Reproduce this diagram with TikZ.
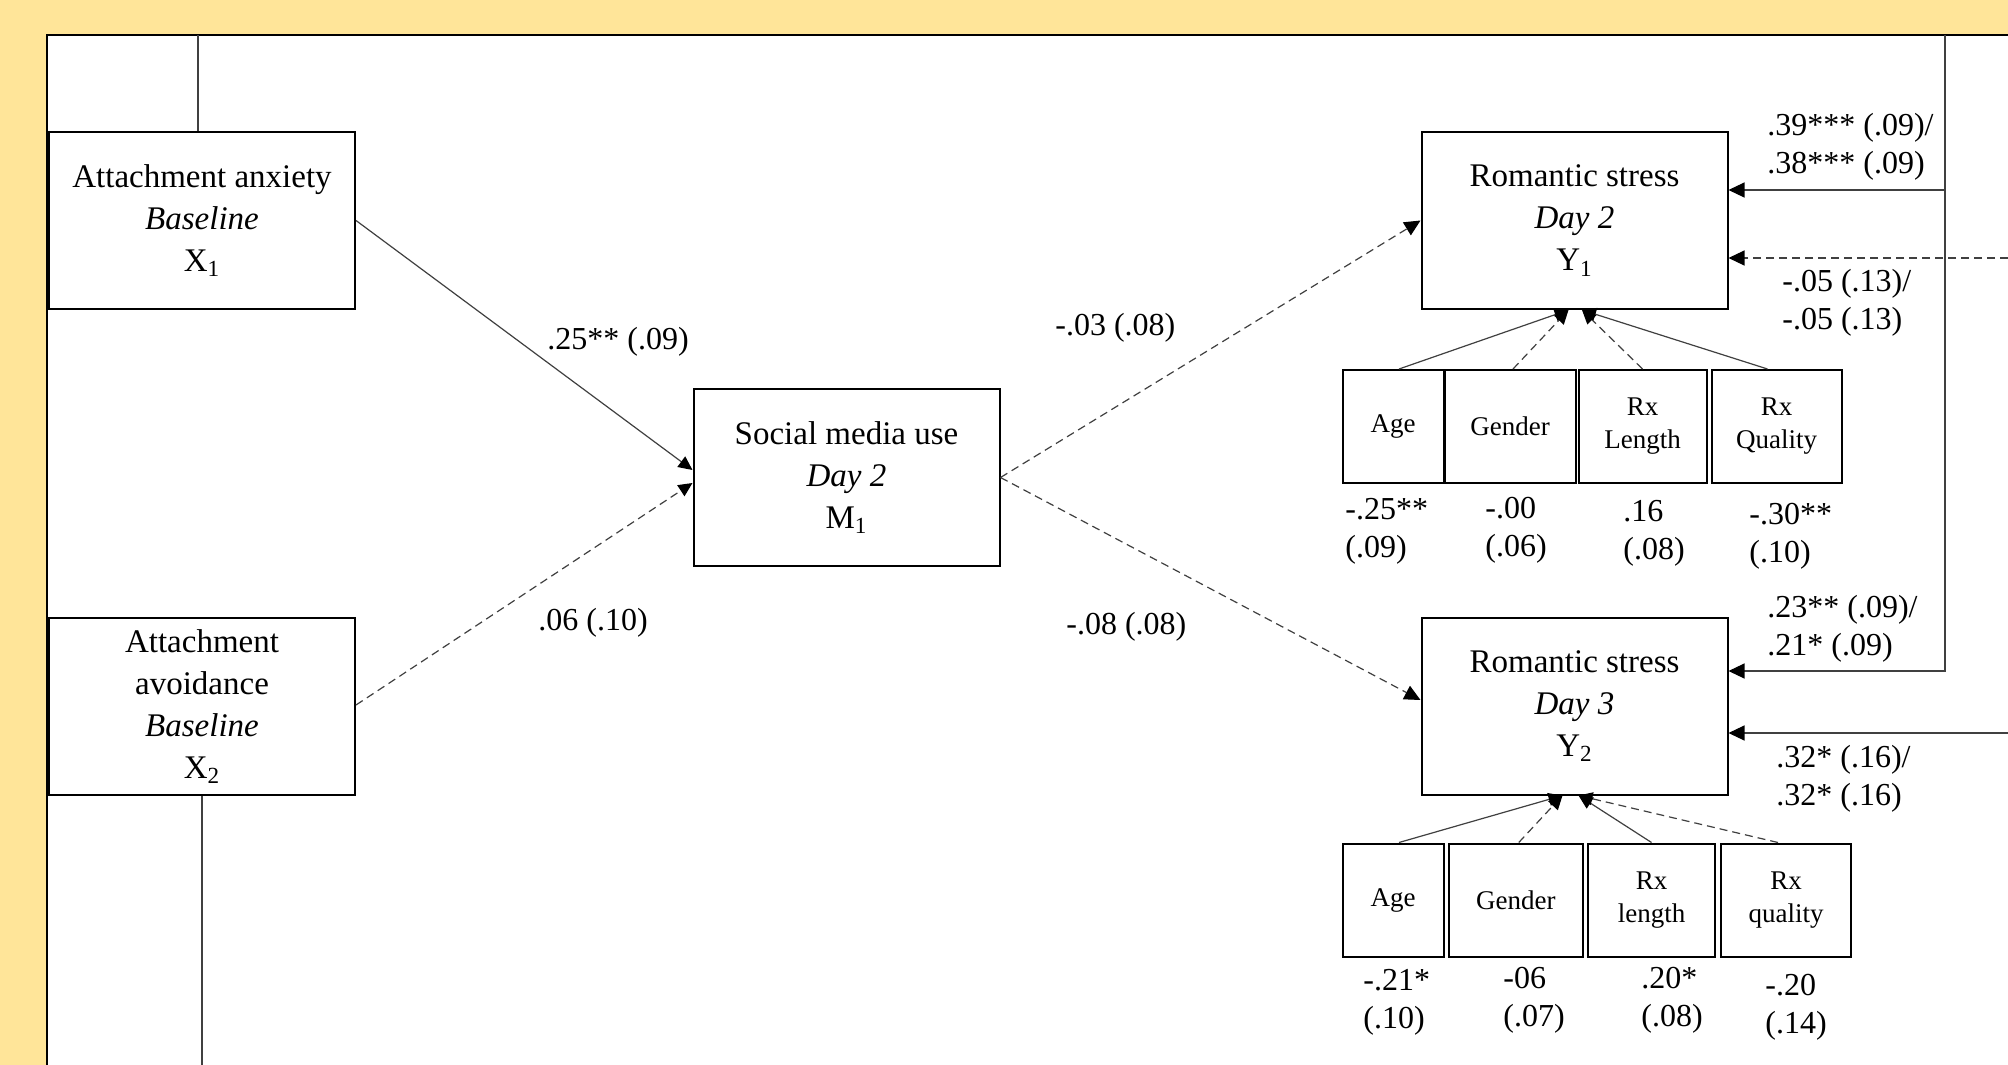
\documentclass[tikz,border=0pt]{standalone}
\usepackage{fontspec}
\setmainfont{Liberation Serif}
\usetikzlibrary{positioning, arrows.meta}
\definecolor{bgyellow}{RGB}{255,229,153}

\begin{document}
\begin{tikzpicture}[
    x=0.5pt, y=-0.5pt,
    var/.style={
      draw=black, line width=1pt, fill=white, align=center, inner sep=0pt,
      minimum width=153pt, minimum height=88.5pt,
      font=\fontsize{16.5}{21}\selectfont
    },
    cov/.style={
      draw=black, line width=1pt, fill=white, align=center, inner sep=0pt,
      minimum height=56.5pt, font=\fontsize{13.5}{16.5}\selectfont
    },
    coef/.style={align=left, inner sep=0pt, anchor=west, font=\fontsize{16}{19}\selectfont},
    link/.style={line width=0.6pt, black!75},
    arr/.style={link, -{Triangle[length=8pt, width=7.5pt, color=black]}},
    sarr/.style={link, -{Triangle[length=7pt, width=6.5pt, color=black]}},
    dsh/.style={dash pattern=on 4pt off 2.5pt},
  ]
    \useasboundingbox (0,0) rectangle (2008,1065);
    \fill[bgyellow] (0,0) rectangle (2008,1065);
    \draw[line width=1pt, fill=white] (47,35) rectangle (2040,1100);

    \node[var] (anx) at (202,220.5) {Attachment anxiety\\\textit{Baseline}\\X\textsubscript{1}};
    \node[var] (avo) at (202,706.5) {Attachment\\avoidance\\\textit{Baseline}\\X\textsubscript{2}};
    \node[var] (med) at (846.5,477.5) {Social media use\\\textit{Day 2}\\M\textsubscript{1}};
    \node[var] (y1) at (1574.5,220.5) {Romantic stress\\\textit{Day 2}\\Y\textsubscript{1}};
    \node[var] (y2) at (1574.5,706) {Romantic stress\\\textit{Day 3}\\Y\textsubscript{2}};

    \node[cov, minimum width=50.5pt] (a1) at (1393,426.5) {Age};
    \node[cov, minimum width=65.5pt, right=-0.5pt of a1] (g1) {Gender};
    \node[cov, minimum width=64pt, right=0.5pt of g1] (l1) {Rx\\Length};
    \node[cov, minimum width=65pt, right=1.5pt of l1] (q1) {Rx\\Quality};

    \node[cov, minimum width=50.5pt] (a2) at (1393,900) {Age};
    \node[cov, minimum width=66.75pt, right=1.75pt of a2] (g2) {Gender};
    \node[cov, minimum width=63.5pt, right=1.75pt of g2] (l2) {Rx\\length};
    \node[cov, minimum width=65pt, right=2pt of l2] (q2) {Rx\\quality};

    \draw[sarr] (anx.east) -- ([yshift=3.75pt]med.west);
    \draw[sarr, dsh] ([yshift=0.75pt]avo.east) -- ([yshift=-2.75pt]med.west);
    \draw[arr, dsh] (med.east) -- (y1.west);
    \draw[arr, dsh] (med.east) -- ([yshift=3pt]y2.west);

    \draw[sarr] ([xshift=3pt]a1.north) -- ([xshift=-3pt]y1.south);
    \draw[sarr, dsh] ([xshift=1.5pt]g1.north) -- ([xshift=-3pt]y1.south);
    \draw[sarr, dsh] (l1.north) -- ([xshift=3.75pt]y1.south);
    \draw[sarr] ([xshift=-4.5pt]q1.north) -- ([xshift=3.75pt]y1.south);

    \draw[sarr] ([xshift=3pt]a2.north) -- ([xshift=-6pt]y2.south);
    \draw[sarr, dsh] ([xshift=1.5pt]g2.north) -- ([xshift=-6pt]y2.south);
    \draw[sarr] (l2.north) -- ([xshift=2pt]y2.south);
    \draw[sarr, dsh] ([xshift=-4pt]q2.north) -- ([xshift=2pt]y2.south);

    \coordinate (ltop) at (198,35);
    \coordinate (lbot) at (202,1065);
    \draw[link] (ltop) -- (ltop |- anx.north);
    \draw[link] (avo.south) -- (lbot);

    \coordinate (rtop) at (1945,35);
    \coordinate (rjoin) at (1945,190);
    \coordinate (redge1) at (2008,258);
    \coordinate (redge2) at (2008,733);
    \draw[arr] (rtop) |- ([yshift=17.5pt]y2.east);
    \draw[arr] (rjoin) -- (y1.east |- rjoin);
    \draw[arr, dsh] (redge1) -- (y1.east |- redge1);
    \draw[arr] (redge2) -- (y2.east |- redge2);

    \node[coef] (kAnx) at (547,342) {.25** (.09)};
    \node[coef] (kAvo) at (538,623) {.06 (.10)};
    \node[coef] (kY1) at (1055,328) {-.03 (.08)};
    \node[coef] (kY2) at (1066,627) {-.08 (.08)};

    \node[coef] (kS1) at (1767,146.5) {.39*** (.09)/\\.38*** (.09)};
    \node[coef] (kA1) at (1782,302.5) {-.05 (.13)/\\-.05 (.13)};
    \node[coef] (kS2) at (1767,629) {.23** (.09)/\\.21* (.09)};
    \node[coef] (kA2) at (1776,778.5) {.32* (.16)/\\.32* (.16)};

    \node[coef] (ca1) at (1345,531) {-.25**\\(.09)};
    \node[coef] (cg1) at (1485,530) {-.00\\(.06)};
    \node[coef] (cl1) at (1623,533) {.16\\(.08)};
    \node[coef] (cq1) at (1749,536) {-.30**\\(.10)};

    \node[coef] (ca2) at (1363,1002) {-.21*\\(.10)};
    \node[coef] (cg2) at (1503,1000) {-06\\(.07)};
    \node[coef] (cl2) at (1641,1000.5) {.20*\\(.08)};
    \node[coef] (cq2) at (1765,1007) {-.20\\(.14)};
  \end{tikzpicture}
\end{document}
